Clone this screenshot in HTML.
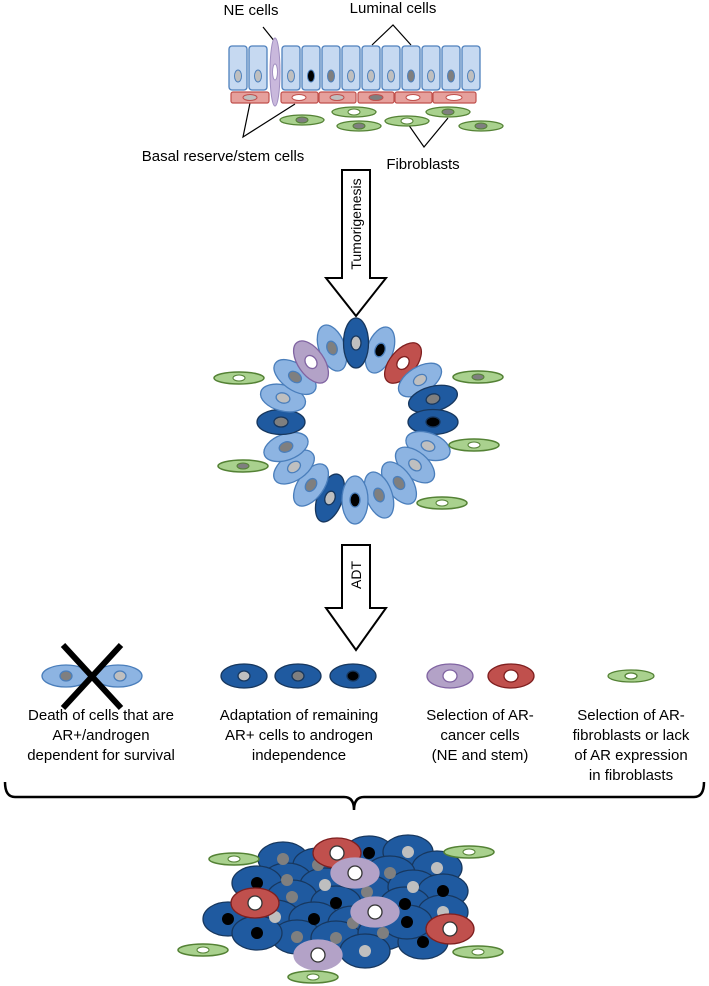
<!DOCTYPE html>
<html><head><meta charset="utf-8"><style>html,body{margin:0;padding:0;background:#fff}svg{display:block}text{font-family:"Liberation Sans",sans-serif;fill:#000}</style></head>
<body>
<svg width="709" height="986" viewBox="0 0 709 986" xmlns="http://www.w3.org/2000/svg">
<!-- top labels -->
<text x="251" y="15" font-size="15" text-anchor="middle">NE cells</text>
<text x="393" y="13" font-size="15" text-anchor="middle">Luminal cells</text>
<text x="223" y="161" font-size="15" text-anchor="middle">Basal reserve/stem cells</text>
<text x="423" y="169" font-size="15" text-anchor="middle">Fibroblasts</text>
<g stroke="#000" stroke-width="1.2" fill="none">
<polyline points="263,27 275,42"/>
<polyline points="372,45 393,25 411,45"/>
<polyline points="250,103 243,137 295,104"/>
<polyline points="408,124 424,147 448,118"/>
</g>
<!-- luminal cells -->
<g fill="#c6d9f1" stroke="#4f81bd" stroke-width="1.3">
<rect x="229" y="46" width="18" height="44" rx="3"/>
<rect x="249" y="46" width="18" height="44" rx="3"/>
<rect x="282" y="46" width="18" height="44" rx="3"/>
<rect x="302" y="46" width="18" height="44" rx="3"/>
<rect x="322" y="46" width="18" height="44" rx="3"/>
<rect x="342" y="46" width="18" height="44" rx="3"/>
<rect x="362" y="46" width="18" height="44" rx="3"/>
<rect x="382" y="46" width="18" height="44" rx="3"/>
<rect x="402" y="46" width="18" height="44" rx="3"/>
<rect x="422" y="46" width="18" height="44" rx="3"/>
<rect x="442" y="46" width="18" height="44" rx="3"/>
<rect x="462" y="46" width="18" height="44" rx="3"/>
</g>
<g stroke="#4f81bd" stroke-width="1">
<ellipse cx="238" cy="76" rx="3.5" ry="6" fill="#bfbfbf"/>
<ellipse cx="258" cy="76" rx="3.5" ry="6" fill="#bfbfbf"/>
<ellipse cx="291" cy="76" rx="3.5" ry="6" fill="#bfbfbf"/>
<ellipse cx="311" cy="76" rx="3.5" ry="6" fill="#000"/>
<ellipse cx="331" cy="76" rx="3.5" ry="6" fill="#7f7f7f"/>
<ellipse cx="351" cy="76" rx="3.5" ry="6" fill="#bfbfbf"/>
<ellipse cx="371" cy="76" rx="3.5" ry="6" fill="#bfbfbf"/>
<ellipse cx="391" cy="76" rx="3.5" ry="6" fill="#bfbfbf"/>
<ellipse cx="411" cy="76" rx="3.5" ry="6" fill="#7f7f7f"/>
<ellipse cx="431" cy="76" rx="3.5" ry="6" fill="#bfbfbf"/>
<ellipse cx="451" cy="76" rx="3.5" ry="6" fill="#7f7f7f"/>
<ellipse cx="471" cy="76" rx="3.5" ry="6" fill="#bfbfbf"/>
</g>
<!-- basal -->
<g fill="#e6a09c" stroke="#c0504d" stroke-width="1.2">
<rect x="231" y="92" width="38" height="11" rx="2"/>
<rect x="281" y="92" width="37" height="11" rx="2"/>
<rect x="319" y="92" width="37" height="11" rx="2"/>
<rect x="358" y="92" width="36" height="11" rx="2"/>
<rect x="395" y="92" width="37" height="11" rx="2"/>
<rect x="433" y="92" width="43" height="11" rx="2"/>
</g>
<g stroke="#c0504d" stroke-width="1">
<ellipse cx="250" cy="97.5" rx="7" ry="3" fill="#bfbfbf"/>
<ellipse cx="299" cy="97.5" rx="7" ry="3" fill="#fff"/>
<ellipse cx="337" cy="97.5" rx="7" ry="3" fill="#bfbfbf"/>
<ellipse cx="376" cy="97.5" rx="7" ry="3" fill="#7f7f7f"/>
<ellipse cx="413" cy="97.5" rx="7" ry="3" fill="#fff"/>
<ellipse cx="454" cy="97.5" rx="8" ry="3" fill="#fff"/>
</g>
<ellipse cx="275" cy="72" rx="5" ry="34" fill="#c9b8dc" stroke="#a08ec0" stroke-width="1"/>
<ellipse cx="275" cy="72" rx="2.5" ry="8" fill="#fff" stroke="#a08ec0"/>
<!-- fibroblasts top -->
<g fill="#a9d18e" stroke="#548235" stroke-width="1.3">
<ellipse cx="302" cy="120" rx="22" ry="5"/><ellipse cx="354" cy="112" rx="22" ry="5"/>
<ellipse cx="359" cy="126" rx="22" ry="5"/><ellipse cx="407" cy="121" rx="22" ry="5"/>
<ellipse cx="448" cy="112" rx="22" ry="5"/><ellipse cx="481" cy="126" rx="22" ry="5"/>
</g>
<g stroke="#548235">
<ellipse cx="302" cy="120" rx="6" ry="3" fill="#7f7f7f"/><ellipse cx="354" cy="112" rx="6" ry="3" fill="#fff"/>
<ellipse cx="359" cy="126" rx="6" ry="3" fill="#7f7f7f"/><ellipse cx="407" cy="121" rx="6" ry="3" fill="#fff"/>
<ellipse cx="448" cy="112" rx="6" ry="3" fill="#7f7f7f"/><ellipse cx="481" cy="126" rx="6" ry="3" fill="#7f7f7f"/>
</g>
<!-- arrow 1 -->
<polygon points="342,170 370,170 370,278 386,278 356,316 326,278 342,278" fill="#fff" stroke="#000" stroke-width="2"/>
<text transform="translate(361,224) rotate(-90)" font-size="14" text-anchor="middle">Tumorigenesis</text>
<!-- ring -->
<g stroke-width="1.3">
<g transform="translate(332,348) rotate(-20)"><ellipse rx="13" ry="24" fill="#8db4e2" stroke="#4a7ebb"/><ellipse rx="5" ry="7" fill="#7f7f7f" stroke="#4a7ebb"/></g>
<g transform="translate(380,350) rotate(20)"><ellipse rx="13" ry="24" fill="#8db4e2" stroke="#4a7ebb"/><ellipse rx="5" ry="7" fill="#000" stroke="#4a7ebb"/></g>
<g transform="translate(356,343) rotate(0)"><ellipse rx="12.5" ry="25" fill="#1f5aa0" stroke="#17375e"/><ellipse rx="5" ry="7" fill="#bfbfbf" stroke="#17375e"/></g>
<g transform="translate(403,363) rotate(40)"><ellipse rx="13" ry="24" fill="#c0504d" stroke="#7f1f1f"/><ellipse rx="5.5" ry="7" fill="#fff" stroke="#7f1f1f"/></g>
<g transform="translate(420,380) rotate(58)"><ellipse rx="13" ry="24" fill="#8db4e2" stroke="#4a7ebb"/><ellipse rx="5" ry="7" fill="#bfbfbf" stroke="#4a7ebb"/></g>
<g transform="translate(433,399) rotate(75)"><ellipse rx="12.5" ry="25" fill="#1f5aa0" stroke="#17375e"/><ellipse rx="5" ry="7" fill="#7f7f7f" stroke="#17375e"/></g>
<g transform="translate(433,422) rotate(90)"><ellipse rx="12.5" ry="25" fill="#1f5aa0" stroke="#17375e"/><ellipse rx="5" ry="7" fill="#000" stroke="#17375e"/></g>
<g transform="translate(428,446) rotate(110)"><ellipse rx="13" ry="23" fill="#8db4e2" stroke="#4a7ebb"/><ellipse rx="5" ry="7" fill="#bfbfbf" stroke="#4a7ebb"/></g>
<g transform="translate(415,465) rotate(130)"><ellipse rx="13" ry="23" fill="#8db4e2" stroke="#4a7ebb"/><ellipse rx="5" ry="7" fill="#bfbfbf" stroke="#4a7ebb"/></g>
<g transform="translate(399,483) rotate(145)"><ellipse rx="13" ry="24" fill="#8db4e2" stroke="#4a7ebb"/><ellipse rx="5" ry="7" fill="#7f7f7f" stroke="#4a7ebb"/></g>
<g transform="translate(379,495) rotate(160)"><ellipse rx="13" ry="24" fill="#8db4e2" stroke="#4a7ebb"/><ellipse rx="5" ry="7" fill="#7f7f7f" stroke="#4a7ebb"/></g>
<g transform="translate(330,498) rotate(200)"><ellipse rx="12.5" ry="25" fill="#1f5aa0" stroke="#17375e"/><ellipse rx="5" ry="7" fill="#bfbfbf" stroke="#17375e"/></g>
<g transform="translate(355,500) rotate(180)"><ellipse rx="13" ry="24" fill="#8db4e2" stroke="#4a7ebb"/><ellipse rx="5" ry="7" fill="#000" stroke="#4a7ebb"/></g>
<g transform="translate(311,485) rotate(215)"><ellipse rx="13" ry="24" fill="#8db4e2" stroke="#4a7ebb"/><ellipse rx="5" ry="7" fill="#7f7f7f" stroke="#4a7ebb"/></g>
<g transform="translate(294,467) rotate(235)"><ellipse rx="13" ry="23" fill="#8db4e2" stroke="#4a7ebb"/><ellipse rx="5" ry="7" fill="#bfbfbf" stroke="#4a7ebb"/></g>
<g transform="translate(286,447) rotate(250)"><ellipse rx="13" ry="23" fill="#8db4e2" stroke="#4a7ebb"/><ellipse rx="5" ry="7" fill="#7f7f7f" stroke="#4a7ebb"/></g>
<g transform="translate(281,422) rotate(90)"><ellipse rx="12.5" ry="24" fill="#1f5aa0" stroke="#17375e"/><ellipse rx="5" ry="7" fill="#7f7f7f" stroke="#17375e"/></g>
<g transform="translate(283,398) rotate(105)"><ellipse rx="13" ry="23" fill="#8db4e2" stroke="#4a7ebb"/><ellipse rx="5" ry="7" fill="#bfbfbf" stroke="#4a7ebb"/></g>
<g transform="translate(295,377) rotate(125)"><ellipse rx="13" ry="24" fill="#8db4e2" stroke="#4a7ebb"/><ellipse rx="5" ry="7" fill="#7f7f7f" stroke="#4a7ebb"/></g>
<g transform="translate(311,362) rotate(-35)"><ellipse rx="13" ry="24" fill="#b3a2c7" stroke="#8064a2"/><ellipse rx="5.5" ry="7" fill="#fff" stroke="#8064a2"/></g>
</g>
<g fill="#a9d18e" stroke="#548235" stroke-width="1.5">
<ellipse cx="239" cy="378" rx="25" ry="6"/><ellipse cx="478" cy="377" rx="25" ry="6"/>
<ellipse cx="474" cy="445" rx="25" ry="6"/><ellipse cx="243" cy="466" rx="25" ry="6"/>
<ellipse cx="442" cy="503" rx="25" ry="6"/>
</g>
<g stroke="#548235">
<ellipse cx="239" cy="378" rx="6" ry="3" fill="#fff"/><ellipse cx="478" cy="377" rx="6" ry="3" fill="#7f7f7f"/>
<ellipse cx="474" cy="445" rx="6" ry="3" fill="#fff"/><ellipse cx="243" cy="466" rx="6" ry="3" fill="#7f7f7f"/>
<ellipse cx="442" cy="503" rx="6" ry="3" fill="#fff"/>
</g>
<!-- arrow 2 -->
<polygon points="342,545 370,545 370,608 386,608 356,650 326,608 342,608" fill="#fff" stroke="#000" stroke-width="2"/>
<text transform="translate(361,575) rotate(-90)" font-size="14" text-anchor="middle">ADT</text>
<!-- row -->
<g stroke-width="1.3">
<ellipse cx="66" cy="676" rx="24" ry="11" fill="#8db4e2" stroke="#4a7ebb"/><ellipse cx="66" cy="676" rx="6" ry="5" fill="#7f7f7f" stroke="#4a7ebb"/>
<ellipse cx="118" cy="676" rx="24" ry="11" fill="#8db4e2" stroke="#4a7ebb"/><ellipse cx="120" cy="676" rx="6" ry="5" fill="#bfbfbf" stroke="#4a7ebb"/>
<ellipse cx="244" cy="676" rx="23" ry="12" fill="#1f5aa0" stroke="#17375e"/><ellipse cx="244" cy="676" rx="6" ry="5" fill="#bfbfbf" stroke="#17375e"/>
<ellipse cx="298" cy="676" rx="23" ry="12" fill="#1f5aa0" stroke="#17375e"/><ellipse cx="298" cy="676" rx="6" ry="5" fill="#7f7f7f" stroke="#17375e"/>
<ellipse cx="353" cy="676" rx="23" ry="12" fill="#1f5aa0" stroke="#17375e"/><ellipse cx="353" cy="676" rx="6" ry="5" fill="#000" stroke="#17375e"/>
<ellipse cx="450" cy="676" rx="23" ry="12" fill="#b3a2c7" stroke="#8064a2"/><ellipse cx="450" cy="676" rx="7" ry="6" fill="#fff" stroke="#8064a2"/>
<ellipse cx="511" cy="676" rx="23" ry="12" fill="#c0504d" stroke="#7f1f1f"/><ellipse cx="511" cy="676" rx="7" ry="6" fill="#fff" stroke="#7f1f1f"/>
<ellipse cx="631" cy="676" rx="23" ry="6" fill="#a9d18e" stroke="#548235"/><ellipse cx="631" cy="676" rx="6" ry="3" fill="#fff" stroke="#548235"/>
</g>
<g stroke="#000" stroke-width="6"><line x1="63" y1="645" x2="121" y2="708"/><line x1="121" y1="645" x2="63" y2="708"/></g>
<g font-size="15" text-anchor="middle">
<text x="101" y="720">Death of cells that are</text>
<text x="101" y="740">AR+/androgen</text>
<text x="101" y="760">dependent for survival</text>
<text x="299" y="720">Adaptation of remaining</text>
<text x="299" y="740">AR+ cells to androgen</text>
<text x="299" y="760">independence</text>
<text x="480" y="720">Selection of AR-</text>
<text x="480" y="740">cancer cells</text>
<text x="480" y="760">(NE and stem)</text>
<text x="631" y="720">Selection of AR-</text>
<text x="631" y="740">fibroblasts or lack</text>
<text x="631" y="760">of AR expression</text>
<text x="631" y="780">in fibroblasts</text>
</g>
<path d="M5,782 Q5,797 15,797 L344,797 Q354,797 354,810 Q354,797 364,797 L694,797 Q704,797 704,782" fill="none" stroke="#000" stroke-width="2.5"/>
<!-- bottom cluster -->
<g stroke="#17375e" stroke-width="1.3">
<g fill="#1f5aa0">
<ellipse cx="283" cy="859" rx="25" ry="17"/><ellipse cx="318" cy="865" rx="25" ry="17"/>
<ellipse cx="369" cy="853" rx="25" ry="17"/><ellipse cx="408" cy="852" rx="25" ry="17"/>
<ellipse cx="437" cy="868" rx="25" ry="17"/><ellipse cx="390" cy="873" rx="25" ry="17"/>
<ellipse cx="287" cy="880" rx="25" ry="17"/><ellipse cx="257" cy="883" rx="25" ry="17"/>
<ellipse cx="325" cy="885" rx="25" ry="17"/><ellipse cx="367" cy="892" rx="25" ry="17"/>
<ellipse cx="413" cy="887" rx="25" ry="17"/><ellipse cx="443" cy="891" rx="25" ry="17"/>
<ellipse cx="292" cy="897" rx="25" ry="17"/><ellipse cx="336" cy="903" rx="25" ry="17"/>
<ellipse cx="405" cy="904" rx="25" ry="17"/><ellipse cx="443" cy="912" rx="25" ry="17"/>
<ellipse cx="228" cy="919" rx="25" ry="17"/><ellipse cx="275" cy="917" rx="25" ry="17"/>
<ellipse cx="314" cy="919" rx="25" ry="17"/><ellipse cx="353" cy="923" rx="25" ry="17"/>
<ellipse cx="297" cy="937" rx="25" ry="17"/><ellipse cx="257" cy="933" rx="25" ry="17"/>
<ellipse cx="336" cy="938" rx="25" ry="17"/><ellipse cx="383" cy="933" rx="25" ry="17"/>
<ellipse cx="423" cy="942" rx="25" ry="17"/><ellipse cx="365" cy="951" rx="25" ry="17"/>
<ellipse cx="407" cy="922" rx="25" ry="17"/>
</g>
<g stroke="none">
<circle cx="283" cy="859" r="6" fill="#7f7f7f"/><circle cx="318" cy="865" r="6" fill="#7f7f7f"/>
<circle cx="369" cy="853" r="6" fill="#000"/><circle cx="408" cy="852" r="6" fill="#bfbfbf"/>
<circle cx="437" cy="868" r="6" fill="#bfbfbf"/><circle cx="390" cy="873" r="6" fill="#7f7f7f"/>
<circle cx="287" cy="880" r="6" fill="#7f7f7f"/><circle cx="257" cy="883" r="6" fill="#000"/>
<circle cx="325" cy="885" r="6" fill="#bfbfbf"/><circle cx="367" cy="892" r="6" fill="#7f7f7f"/>
<circle cx="413" cy="887" r="6" fill="#bfbfbf"/><circle cx="443" cy="891" r="6" fill="#000"/>
<circle cx="292" cy="897" r="6" fill="#7f7f7f"/><circle cx="336" cy="903" r="6" fill="#000"/>
<circle cx="405" cy="904" r="6" fill="#000"/><circle cx="443" cy="912" r="6" fill="#bfbfbf"/>
<circle cx="228" cy="919" r="6" fill="#000"/><circle cx="275" cy="917" r="6" fill="#bfbfbf"/>
<circle cx="314" cy="919" r="6" fill="#000"/><circle cx="353" cy="923" r="6" fill="#7f7f7f"/>
<circle cx="297" cy="937" r="6" fill="#7f7f7f"/><circle cx="257" cy="933" r="6" fill="#000"/>
<circle cx="336" cy="938" r="6" fill="#7f7f7f"/><circle cx="383" cy="933" r="6" fill="#7f7f7f"/>
<circle cx="423" cy="942" r="6" fill="#000"/><circle cx="365" cy="951" r="6" fill="#bfbfbf"/>
<circle cx="407" cy="922" r="6" fill="#000"/>
</g>
<g fill="#c0504d" stroke="#7f1f1f">
<ellipse cx="337" cy="853" rx="24" ry="15"/><ellipse cx="255" cy="903" rx="24" ry="15"/><ellipse cx="450" cy="929" rx="24" ry="15"/>
</g>
<g fill="#b3a2c7" stroke="#b3a2c7">
<ellipse cx="355" cy="873" rx="24" ry="15"/><ellipse cx="375" cy="912" rx="24" ry="15"/><ellipse cx="318" cy="955" rx="24" ry="15"/>
</g>
<g fill="#fff" stroke="#333">
<circle cx="337" cy="853" r="7"/><circle cx="255" cy="903" r="7"/><circle cx="450" cy="929" r="7"/>
<circle cx="355" cy="873" r="7"/><circle cx="375" cy="912" r="7"/><circle cx="318" cy="955" r="7"/>
</g>
</g>
<g fill="#a9d18e" stroke="#548235" stroke-width="1.5">
<ellipse cx="234" cy="859" rx="25" ry="6"/><ellipse cx="469" cy="852" rx="25" ry="6"/>
<ellipse cx="203" cy="950" rx="25" ry="6"/><ellipse cx="478" cy="952" rx="25" ry="6"/>
<ellipse cx="313" cy="977" rx="25" ry="6"/>
</g>
<g fill="#fff" stroke="#548235">
<ellipse cx="234" cy="859" rx="6" ry="3"/><ellipse cx="469" cy="852" rx="6" ry="3"/>
<ellipse cx="203" cy="950" rx="6" ry="3"/><ellipse cx="478" cy="952" rx="6" ry="3"/>
<ellipse cx="313" cy="977" rx="6" ry="3"/>
</g>
</svg>
</body></html>
